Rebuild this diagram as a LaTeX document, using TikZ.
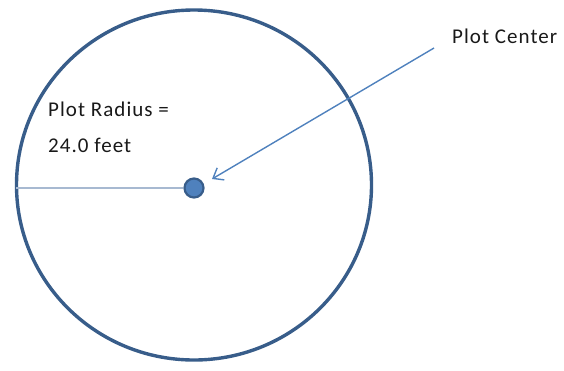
\documentclass[tikz,border=0pt]{standalone}
\usepackage{fontspec}
\setmainfont{Carlito}
\usetikzlibrary{arrows.meta,shapes.geometric}
\definecolor{ringblue}{HTML}{385D8A}
\definecolor{accentblue}{HTML}{4F81BD}
\definecolor{paleblue}{HTML}{A7B9D1}
\newfontfamily\lblfont[LetterSpace=5]{Carlito}
\tikzset{
  lbl/.style={anchor=base west, inner sep=0pt, font=\lblfont\fontsize{21}{24}\selectfont, text=black!90},
  pointer/.style={draw=accentblue, line width=1.4pt, -{Straight Barb[length=9pt,width=14pt,line width=1.4pt]}}
}
\begin{document}
\begin{tikzpicture}[x=1pt,y=-1pt]
\useasboundingbox (0,0) rectangle (564,370);
\node[draw=ringblue, line width=3.4pt, ellipse, minimum width=355pt, minimum height=350pt, inner sep=0pt] (ring) at (194,185) {};
\node[circle, fill=accentblue, draw=ringblue, line width=2.2pt, minimum size=19pt, inner sep=0pt] (dot) at (194,188) {};
\coordinate (redge) at (16,188);
\draw[paleblue, line width=2.4pt] (redge) -- (dot.west);
\node[lbl] (ctr) at (452,43) {Plot Center};
\coordinate (tail) at (434,48);
\draw[pointer] (tail) -- (212,179);
\node[lbl] (rad1) at (48,116) {Plot Radius =};
\node[lbl] (rad2) at (48,152) {24.0 feet};
\end{tikzpicture}
\end{document}
